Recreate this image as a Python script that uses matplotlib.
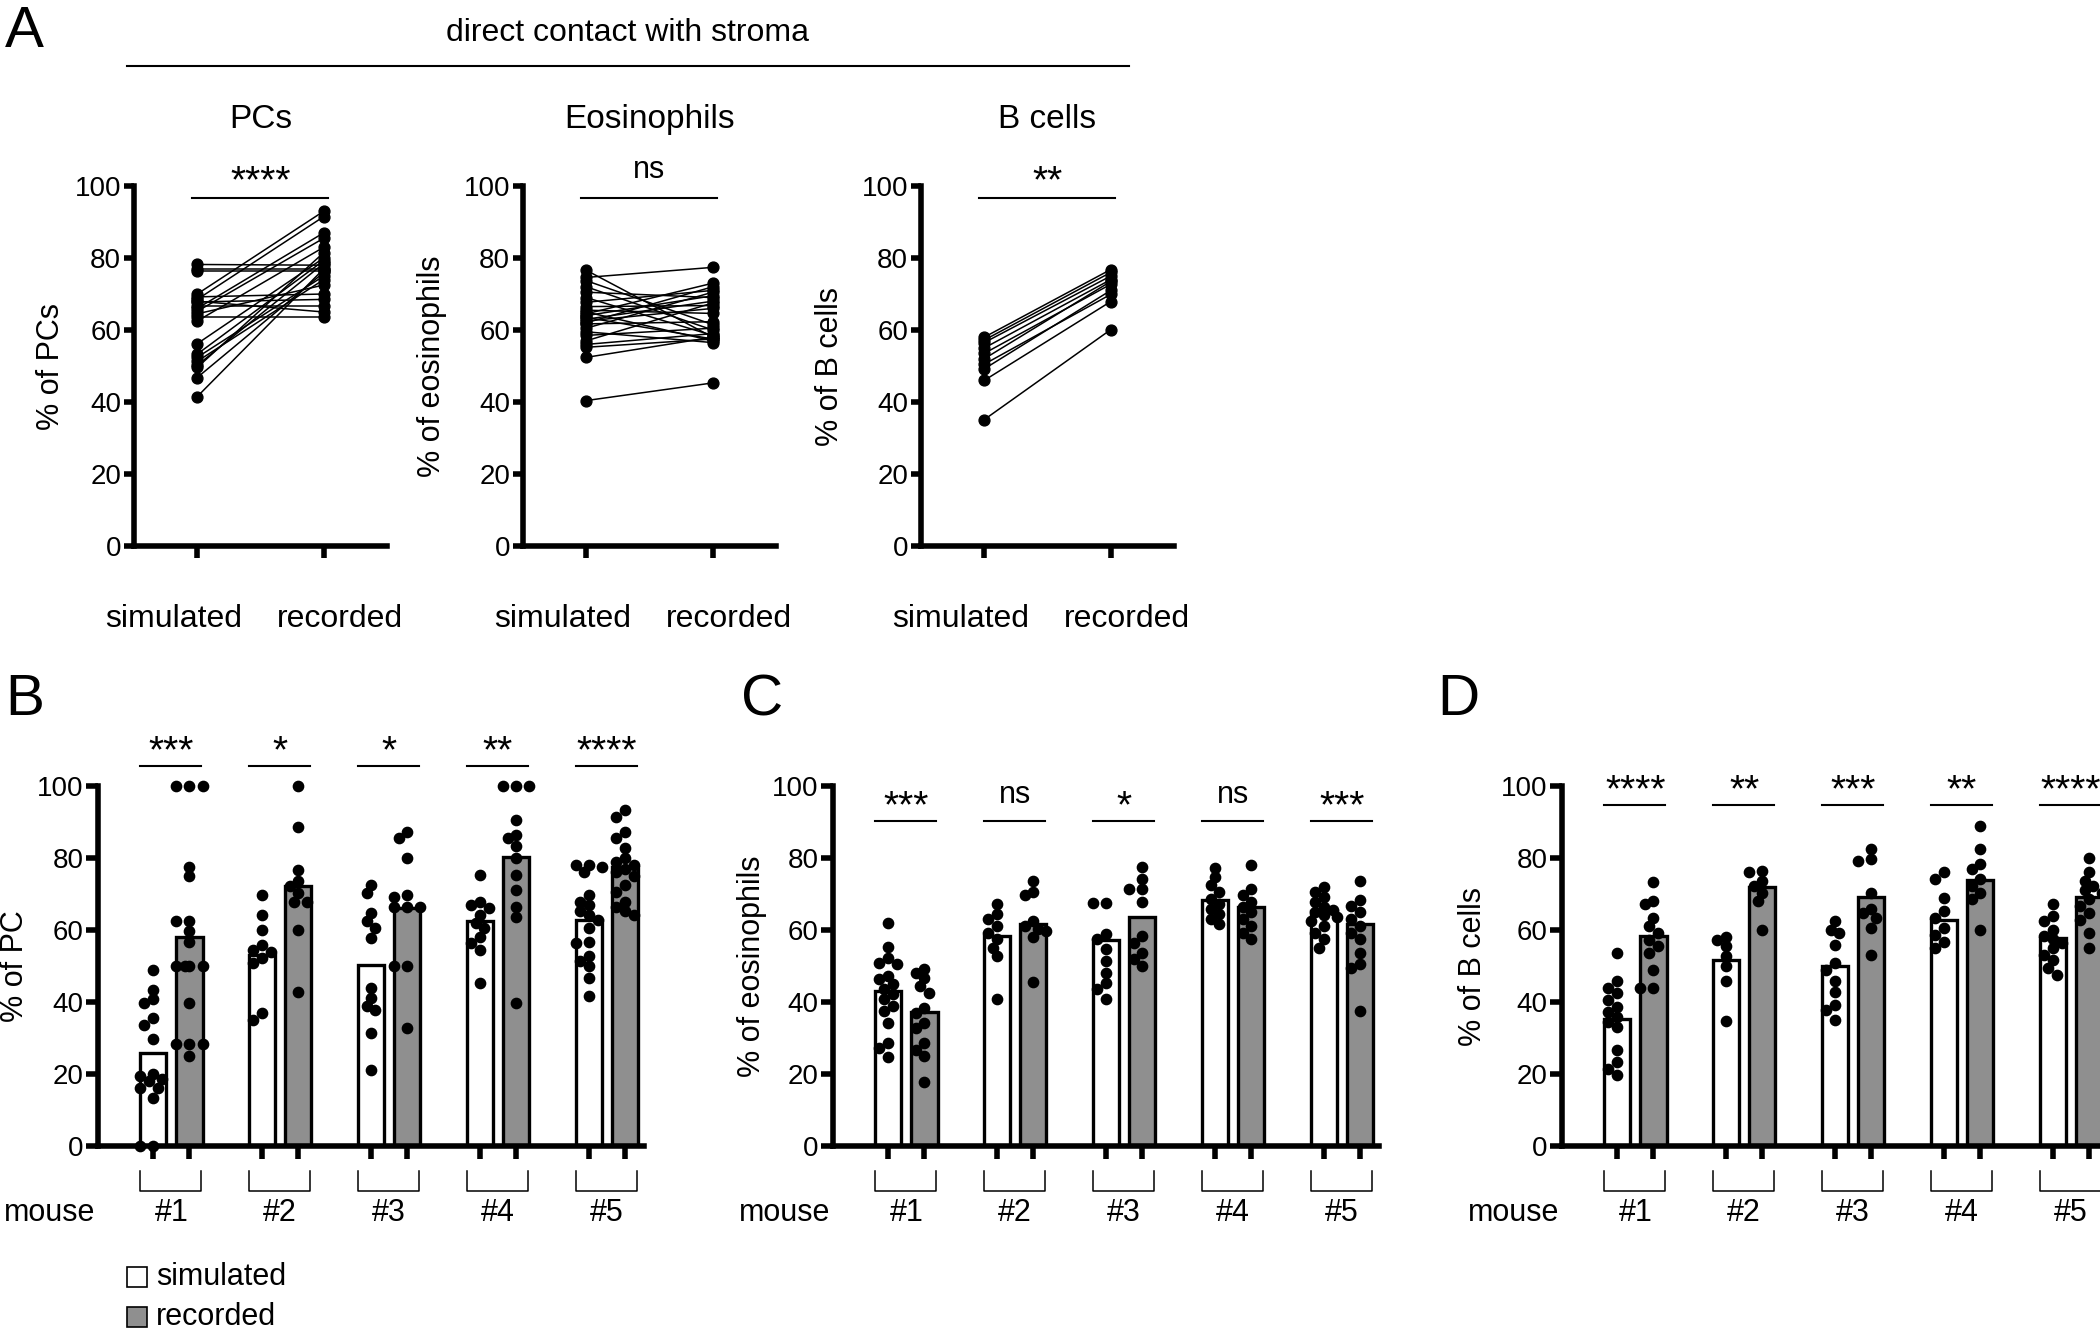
import matplotlib
matplotlib.use('Agg')
import matplotlib.pyplot as plt
import numpy as np
from matplotlib.transforms import ScaledTranslation, blended_transform_factory
from matplotlib.patches import Rectangle
from matplotlib.lines import Line2D

plt.rcParams['font.family'] = ['Liberation Sans', 'DejaVu Sans']

# ---------------- data ----------------
pair_categories = ['simulated', 'recorded']
panelA_titles = ['PCs', 'Eosinophils', 'B cells']
panelA_ylabels = ['% of PCs', '% of eosinophils', '% of B cells']
panelA_sig = ['****', 'ns', '**']

pcs_simulated = [78.2, 77.0, 76.5, 70.0, 69.2, 68.5, 67.8, 66.8, 66.0, 65.2, 64.5,
                 63.5, 62.5, 56.2, 53.3, 52.4, 51.3, 50.2, 49.6, 46.8, 41.5, 68.0]
pcs_recorded = [78.0, 77.0, 76.5, 93.0, 70.0, 91.5, 68.5, 66.8, 87.0, 85.5, 72.5,
                63.5, 83.0, 80.0, 79.3, 75.0, 74.0, 78.5, 81.5, 76.0, 77.0, 65.0]

eos_simulated = [76.6, 74.6, 73.7, 72.0, 70.5, 69.0, 67.7, 66.5, 65.5, 64.5, 64.0, 63.5,
                 63.0, 62.5, 61.7, 60.5, 59.5, 58.5, 57.0, 56.0, 55.2, 52.4, 40.4, 65.0, 62.0]
eos_recorded = [58.0, 77.4, 61.5, 60.0, 69.0, 58.5, 71.0, 66.8, 64.6, 73.0, 69.5, 57.5,
                68.0, 66.0, 62.3, 70.5, 56.5, 60.5, 67.5, 59.0, 57.5, 58.0, 45.3, 57.0, 72.0]

bcells_simulated = [58.0, 57.2, 56.5, 55.0, 53.5, 52.0, 50.5, 49.2, 46.0, 35.1]
bcells_recorded = [76.8, 76.0, 75.0, 74.0, 72.7, 73.5, 69.9, 71.0, 67.9, 60.1]

mice = ['#1', '#2', '#3', '#4', '#5']

pc_bar_sim = [25.9, 53.0, 50.2, 62.4, 62.8]
pc_bar_rec = [58.0, 72.3, 66.1, 80.4, 77.6]
pc_sig = ['***', '*', '*', '**', '****']
pc_sim_dots = [
    [49.0, 43.4, 40.7, 39.7, 35.6, 33.7, 29.6, 19.9, 19.4, 18.5, 18.0, 16.2, 16.0, 13.4, 0.0, 0.0],
    [69.8, 64.2, 60.1, 55.9, 54.5, 54.0, 52.2, 50.8, 37.0, 35.1],
    [72.6, 70.2, 64.7, 62.4, 60.5, 57.8, 43.9, 41.1, 38.8, 37.9, 31.4, 21.0],
    [75.3, 67.9, 67.0, 66.0, 64.2, 61.9, 60.5, 58.0, 56.4, 54.5, 45.3],
    [78.1, 78.1, 77.5, 76.2, 69.8, 67.9, 67.0, 65.2, 64.2, 62.8, 60.5, 56.8, 56.4,
     52.7, 51.3, 49.9, 46.7, 41.6],
]
pc_rec_dots = [
    [100, 100, 100, 77.6, 74.9, 62.4, 62.4, 59.6, 56.8, 50, 50, 50, 50, 39.7, 28.2, 28.2, 28.2, 25.0],
    [100, 88.7, 76.7, 73.5, 72.1, 70.2, 67.9, 67.9, 60.1, 42.7],
    [87.3, 85.5, 79.9, 69.8, 69.3, 66.5, 66.5, 66.5, 49.9, 49.9, 32.8],
    [100, 100, 100, 90.6, 86.4, 85.5, 83.2, 79.9, 75.3, 71.2, 66.5, 63.5, 39.7],
    [93.3, 91.5, 87.3, 85.5, 82.7, 79.9, 79.0, 78.0, 77.0, 76.2, 75.0, 72.6, 70.5,
     67.9, 66.5, 65.2, 64.2],
]

eo_bar_sim = [43.0, 58.2, 57.3, 68.4, 65.2]
eo_bar_rec = [37.2, 61.7, 63.6, 66.4, 61.7]
eo_sig = ['***', 'ns', '*', 'ns', '***']
eo_sim_dots = [
    [62.0, 55.4, 52.3, 50.9, 50.5, 47.2, 46.3, 44.9, 43.5, 42.1, 40.7, 38.8, 37.4, 34.1,
     28.5, 27.1, 24.8],
    [67.1, 64.5, 63.1, 61.2, 59.3, 57.5, 55.1, 52.8, 40.7],
    [67.6, 67.6, 58.9, 57.5, 54.7, 51.4, 48.1, 45.3, 43.5, 40.7],
    [77.3, 74.8, 72.4, 70.6, 68.7, 67.3, 65.9, 64.5, 63.1, 61.7],
    [72.0, 70.6, 69.2, 67.8, 66.4, 65.5, 65.0, 64.2, 63.6, 62.6, 61.2, 59.3, 57.5, 55.1],
]
eo_rec_dots = [
    [49.3, 48.1, 46.7, 44.4, 42.5, 38.3, 36.9, 34.1, 32.7, 28.5, 26.6, 25.0, 17.8],
    [73.6, 70.6, 69.6, 62.6, 61.2, 60.3, 59.8, 58.0, 45.5],
    [77.6, 74.3, 71.5, 71.5, 67.8, 58.4, 56.5, 53.7, 51.9, 50.0],
    [78.0, 71.5, 69.6, 67.8, 66.4, 65.0, 63.1, 61.2, 59.3, 57.5],
    [73.6, 68.2, 66.8, 65.0, 63.1, 61.2, 59.3, 57.5, 53.7, 50.5, 49.5, 37.4],
]

bc_bar_sim = [35.4, 51.7, 49.9, 62.7, 57.8]
bc_bar_rec = [58.2, 72.0, 69.2, 73.8, 69.2]
bc_sig = ['****', '**', '***', '**', '****']
bc_sim_dots = [
    [53.6, 45.7, 43.8, 42.4, 40.5, 38.7, 37.3, 35.9, 34.5, 33.1, 26.6, 23.3, 21.4, 19.6],
    [58.1, 57.3, 55.5, 52.7, 49.9, 45.7, 34.8],
    [62.4, 60.1, 59.2, 55.9, 50.8, 48.9, 45.7, 42.9, 39.1, 37.7, 34.9],
    [76.0, 74.1, 69.0, 65.2, 63.4, 60.6, 58.7, 56.8, 55.0],
    [67.1, 63.8, 62.4, 60.1, 58.2, 57.5, 56.4, 55.0, 53.1, 51.7, 49.4, 47.5],
]
bc_rec_dots = [
    [73.3, 68.0, 67.1, 63.4, 61.0, 59.2, 57.3, 55.5, 53.6, 48.9, 43.8, 43.8],
    [76.4, 76.0, 73.6, 72.2, 70.4, 68.0, 60.1],
    [82.5, 79.7, 79.2, 70.4, 65.7, 64.8, 63.4, 60.6, 53.1],
    [89.0, 82.5, 78.3, 76.9, 74.1, 72.2, 70.4, 68.5, 60.1],
    [79.9, 76.0, 73.6, 72.2, 71.0, 70.4, 68.5, 66.6, 64.8, 62.9, 59.2, 55.0],
]

# ---------------- styling ----------------
W, H = 2100, 1328
GRAY = '#8f8f8f'
SPINE_LW = 4.0
fig = plt.figure(figsize=(W / 100, H / 100), dpi=100)


def ax_px(left, right, top, bottom):
    return fig.add_axes([left / W, 1 - bottom / H, (right - left) / W, (bottom - top) / H])


def style_axis(ax, ytick_len, xtick_len):
    for s in ['top', 'right']:
        ax.spines[s].set_visible(False)
    for s in ['left', 'bottom']:
        ax.spines[s].set_linewidth(SPINE_LW)
        ax.spines[s].set_capstyle('projecting')
    ax.tick_params(axis='y', length=ytick_len, width=SPINE_LW, labelsize=20, pad=2)
    ax.tick_params(axis='x', length=xtick_len, width=SPINE_LW)


def sig_text(ax, x, yc, s):
    if s == 'ns':
        fs, off = 22, 0.26 * 22
    else:
        fs, off = 28, 0.575 * 28
    ax.text(x, yc, s, ha='center', va='baseline', fontsize=fs, clip_on=False,
            transform=ax.transData + ScaledTranslation(0, -off / 72, fig.dpi_scale_trans))


def swarm(values, xpx=36.3, ypx=3.61, diam=9.0, step=0.12, maxk=3):
    values = np.asarray(values, dtype=float)
    order = np.argsort(-values, kind='stable')
    cands = [0.0]
    for k in range(1, maxk + 1):
        cands += [-k * step, k * step]
    placed = []
    offs = np.zeros(len(values))
    for i in order:
        v = values[i]
        best, bestd = 0.0, -1
        for c in cands:
            if placed:
                d = min(np.hypot((c - pc) * xpx, (v - pv) * ypx) for pc, pv in placed)
            else:
                d = 1e9
            if d >= diam:
                best = c
                break
            if d > bestd:
                bestd, best = d, c
        offs[i] = best
        placed.append((best, v))
    return offs


# ---------------- Panel A ----------------
fig.text(5 / W, 1 - 47 / H, 'A', fontsize=42, va='baseline', ha='left')
fig.text(628 / W, 1 - 33 / H, 'direct contact with stroma', fontsize=23, ha='center', va='center')
fig.add_artist(Line2D([127 / W, 1129 / W], [1 - 66 / H, 1 - 66 / H], color='black',
                      lw=1.5, transform=fig.transFigure))

A_sets = [(pcs_simulated, pcs_recorded), (eos_simulated, eos_recorded),
          (bcells_simulated, bcells_recorded)]
A_lefts = [134, 523, 921]
A_ylab_dx = [-83, -91, -91]
for i in range(3):
    left = A_lefts[i]
    ax = ax_px(left, left + 253, 186, 546)
    sim, rec = A_sets[i]
    for s, r in zip(sim, rec):
        ax.plot([0, 1], [s, r], '-o', color='black', lw=1.1, ms=7.8, clip_on=False, zorder=3)
    ax.set_xlim(-0.5, 1.5)
    ax.set_ylim(0, 100)
    ax.set_yticks(range(0, 101, 20))
    ax.set_xticks([0, 1])
    style_axis(ax, 7.2, 8.5)
    ax.tick_params(axis='x', pad=33)
    ax.set_xticklabels(pair_categories, fontsize=23)
    shifts = [-17, 12]
    for lab, sh in zip(ax.get_xticklabels(), shifts):
        lab.set_transform(lab.get_transform() + ScaledTranslation(sh / 72, 0, fig.dpi_scale_trans))
    ax.set_ylabel(panelA_ylabels[i], fontsize=22, va='center')
    ax.yaxis.set_label_coords(A_ylab_dx[i] / 253, 0.5)
    ax.set_title(panelA_titles[i], fontsize=24, pad=42)
    ax.plot([-0.04, 1.03], [96.8, 96.8], color='black', lw=1.5, clip_on=False)
    sig_text(ax, 0.5, 104.4, panelA_sig[i])

# ---------------- Panels B, C, D ----------------
bar_panels = [
    ('B', 5, 98, '% of PC', pc_bar_sim, pc_bar_rec, pc_sim_dots, pc_rec_dots, pc_sig,
     105.6, 112.8, -83),
    ('C', 741, 833, '% of eosinophils', eo_bar_sim, eo_bar_rec, eo_sim_dots, eo_rec_dots,
     eo_sig, 90.4, 97.5, -81),
    ('D', 1437, 1562, '% of B cells', bc_bar_sim, bc_bar_rec, bc_sim_dots, bc_rec_dots,
     bc_sig, 94.8, 102.0, -89),
]
BW = 546
for (letter, lx, left, ylab, bsim, brec, dsim, drec, sigs, sig_y, sig_ty, ylab_dx) in bar_panels:
    fig.text(lx / W, 1 - 715 / H, letter, fontsize=42, va='baseline', ha='left')
    ax = ax_px(left, left + BW, 786, 1146)
    pos_sim = np.arange(len(mice)) * 3.0
    pos_rec = pos_sim + 1.0
    ax.bar(pos_sim, bsim, width=0.72, color='white', edgecolor='black', linewidth=2.4, zorder=2)
    ax.bar(pos_rec, brec, width=0.72, color=GRAY, edgecolor='black', linewidth=2.4, zorder=2)
    for g in range(len(mice)):
        for p, vals in ((pos_sim[g], dsim[g]), (pos_rec[g], drec[g])):
            offs = swarm(vals)
            ax.plot(p + offs, vals, 'o', color='black', ms=7.4, clip_on=False, zorder=4,
                    linestyle='none')
    ax.set_xlim(-1.52, 13.52)
    ax.set_ylim(0, 100)
    ax.set_yticks(range(0, 101, 20))
    ticks = np.sort(np.concatenate([pos_sim, pos_rec]))
    ax.set_xticks(ticks)
    ax.set_xticklabels([''] * len(ticks))
    style_axis(ax, 8.6, 9.4)
    ax.set_ylabel(ylab, fontsize=22, va='center')
    ax.yaxis.set_label_coords(ylab_dx / BW, 0.5)

    trans = blended_transform_factory(ax.transData, ax.transAxes)
    for g in range(len(mice)):
        x0, x1 = pos_sim[g] - 0.36, pos_rec[g] + 0.33
        ax.plot([x0, x0, x1, x1], [-0.069, -0.125, -0.125, -0.069], color='black', lw=1.1,
                transform=trans, clip_on=False)
        ax.text((pos_sim[g] + pos_rec[g]) / 2, -0.186, mice[g], transform=trans, ha='center',
                va='center', fontsize=22)
        ax.plot([pos_sim[g] - 0.35, pos_rec[g] + 0.32], [sig_y, sig_y], color='black', lw=1.5,
                clip_on=False)
        sig_text(ax, (pos_sim[g] + pos_rec[g]) / 2, sig_ty, sigs[g])
    ax.text(-0.088, -0.186, 'mouse', transform=ax.transAxes, ha='center', va='center',
            fontsize=22)

# legend
for yc, fc, lab in ((1277, 'white', 'simulated'), (1317, GRAY, 'recorded')):
    fig.add_artist(Rectangle((127 / W, 1 - (yc + 10) / H), 20 / W, 20 / H, facecolor=fc,
                             edgecolor='black', lw=1.2, transform=fig.transFigure))
    fig.text(156 / W, 1 - yc / H, lab, fontsize=22, ha='left', va='center')

fig.savefig('out.png', dpi=100)
